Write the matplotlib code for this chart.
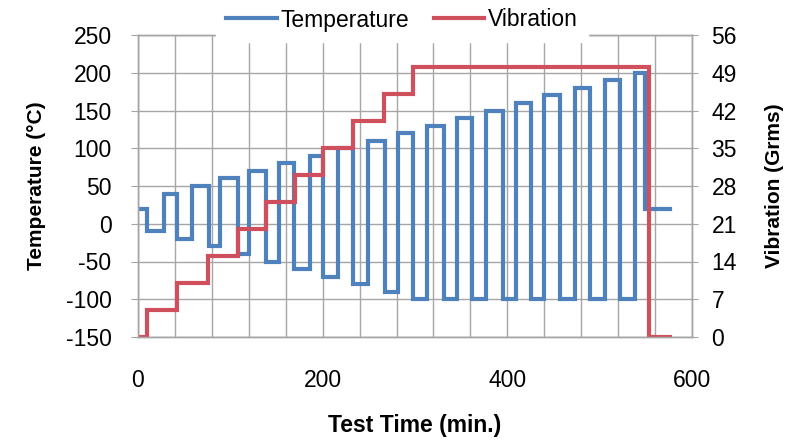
import matplotlib
matplotlib.use("Agg")
import matplotlib.pyplot as plt
from matplotlib.ticker import MultipleLocator

plt.rcParams['font.family'] = ['Liberation Sans', 'DejaVu Sans']
plt.rcParams['axes.unicode_minus'] = False

# Temperature profile (step changes): time in min, temperature in °C
temp_times = [0, 10, 28, 42, 58, 77, 89, 108, 120, 139, 153, 169, 186, 200,
              217, 233, 249, 267, 282, 298, 313, 331, 346, 362, 377, 395,
              409, 426, 440, 457, 473, 489, 506, 522, 538, 549, 576]
temp_vals = [20, -10, 40, -20, 50, -30, 60, -40, 70, -50, 80, -60, 90, -70,
             100, -80, 110, -90, 120, -100, 130, -100, 140, -100, 150, -100,
             160, -100, 170, -100, 180, -100, 190, -100, 200, 20, 20]

# Vibration profile (step changes): time in min, level in Grms
vib_times = [0, 10, 42, 76, 108, 139, 170, 200, 233, 266, 298, 553, 576]
vib_vals = [0, 5, 10, 15, 20, 25, 30, 35, 40, 45, 50, 0, 0]

x_ticks = [0, 200, 400, 600]
temp_ticks = [-150, -100, -50, 0, 50, 100, 150, 200, 250]
vib_ticks = [0, 7, 14, 21, 28, 35, 42, 49, 56]

blue = '#4F81BD'
red = '#CF4F5C'
grid_c = '#A6A6A6'

fig = plt.figure(figsize=(7.94, 4.42), dpi=100)
ax = fig.add_axes([138/794, 1-337/442, (692-138)/794, (337-35)/442])
ax2 = ax.twinx()

ax.plot(temp_times, temp_vals, drawstyle='steps-post', color=blue, lw=3,
        label='Temperature', solid_joinstyle='miter')
ax2.plot(vib_times, vib_vals, drawstyle='steps-post', color=red, lw=3,
         label='Vibration', solid_joinstyle='miter')

ax.set_xlim(0, 600)
ax.set_ylim(-150, 250)
ax2.set_ylim(0, 56)
ax.set_xticks(x_ticks)
ax.xaxis.set_minor_locator(MultipleLocator(40))
ax.set_yticks(temp_ticks)
ax2.set_yticks(vib_ticks)

ax.grid(True, which='both', axis='x', color=grid_c, lw=1)
ax.grid(True, which='major', axis='y', color=grid_c, lw=1)
ax.set_axisbelow(True)

for a in (ax, ax2):
    for s in a.spines.values():
        s.set_color(grid_c)
        s.set_linewidth(1)

TS = 16.5
ax.tick_params(axis='x', which='both', length=0, labelsize=TS, pad=23)
ax.tick_params(axis='y', length=5, color=grid_c, labelsize=TS, pad=14)
ax2.tick_params(axis='y', length=4, color=grid_c, labelsize=TS, pad=10)

ax.set_xlabel('Test Time (min.)', fontsize=TS, fontweight='bold', labelpad=16)
ax.set_ylabel('Temperature (°C)', fontsize=15, fontweight='bold', labelpad=14)
ax2.set_ylabel('Vibration (Grms)', fontsize=15, fontweight='bold', labelpad=20)

h1, l1 = ax.get_legend_handles_labels()
h2, l2 = ax2.get_legend_handles_labels()
leg = fig.legend(h1 + h2, l1 + l2, loc='center', bbox_to_anchor=(402/794, 1-20/442),
                 ncol=2, frameon=True, fontsize=TS, handlelength=2.2,
                 handletextpad=0.15, columnspacing=1.1, borderpad=0.45)
leg.get_frame().set_facecolor('white')
leg.get_frame().set_edgecolor('white')
leg.get_frame().set_alpha(1)
leg.set_zorder(10)

fig.savefig('out.png', dpi=100)
